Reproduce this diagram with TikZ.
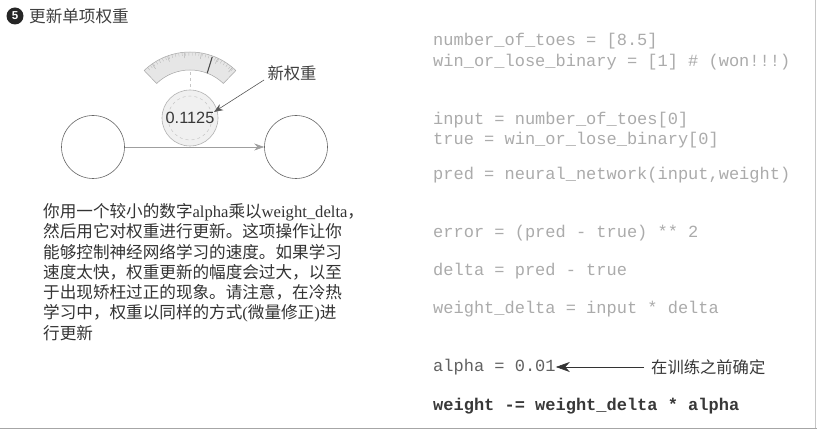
\documentclass[tikz,border=0pt]{standalone}
\usepackage{fontspec}
\setmainfont{Liberation Serif}
\setsansfont{Liberation Sans}
\setmonofont{Liberation Mono}
\newfontfamily\cjk{Noto Sans CJK SC}
\usetikzlibrary{arrows.meta}
\definecolor{codegray}{HTML}{ABABAB}
\definecolor{textgray}{HTML}{333333}
\definecolor{gaugefill}{HTML}{E6E6E6}
\tikzset{
  neuron/.style={circle,draw=gray!80!black,line width=0.6pt,minimum size=63pt,inner sep=0pt},
  codeline/.style={anchor=base west,inner sep=0pt,font=\ttfamily\fontsize{17}{20}\selectfont,text=codegray},
  calloutarrow/.style={draw=gray!70!black,line width=0.6pt,-{Stealth[length=9pt,width=7pt]}},
  cjklabel/.style={inner sep=0pt,font=\cjk\fontsize{16.3}{20}\selectfont,text=textgray},
  paraline/.style={anchor=base west,inner sep=0pt,font=\cjk\fontsize{16.6}{20}\selectfont,text=textgray}
}
\begin{document}
\begin{tikzpicture}[x=1pt,y=-1pt]
\useasboundingbox (0,0) rectangle (817,430);
\fill[white] (0,0) rectangle (817,430);
% border
\draw[gray!45,line width=0.8pt] (815,0) -- (815,428);
\draw[gray!70,line width=1.6pt] (0,428.5) -- (817,428.5);

% title
\node[circle,fill=black!85,inner sep=0pt,minimum size=17pt,text=white,font=\sffamily\bfseries\fontsize{11.5}{11.5}\selectfont] (num) at (15,16) {5};
\node[cjklabel,anchor=west,text=black!75,font=\cjk\fontsize{16.6}{20}\selectfont] (title) at (29,16) {更新单项权重};

% gauge
\coordinate (gc) at (190,118);
\filldraw[fill=gaugefill,draw=gray!70,line width=0.5pt] ([shift={(-46:66)}]gc) arc[start angle=-46,end angle=-134,radius=66] -- ([shift={(-134:48)}]gc) arc[start angle=-134,end angle=-46,radius=48] -- cycle;
\foreach \a in {49,52,...,131} \draw[gray!55,line width=0.35pt] ([shift={(-\a:65.5)}]gc) -- ([shift={(-\a:62.5)}]gc);
\foreach \a in {50,65,...,125} \draw[gray!60,line width=0.45pt] ([shift={(-\a:65.5)}]gc) -- ([shift={(-\a:60)}]gc);
\draw[black!70,line width=1.1pt] ([shift={(-69:48)}]gc) -- ([shift={(-70:65)}]gc);
\draw[gray!45,dashed,line width=0.5pt] (190,72) -- (190,90);

% weight circle
\node[circle,minimum size=56pt,inner sep=0pt,fill=gray!12,draw=gray!60,line width=0.6pt] (w) at (190,118) {};
\draw[gray!45,dashed,line width=0.5pt] (w.center) circle[radius=22];
\node[inner sep=0pt,font=\sffamily\fontsize{16.3}{18}\selectfont,text=black!78] (wval) at (190,118) {0.1125};

% neurons
\node[neuron] (in) at (93,147) {};
\node[neuron] (out) at (296,147) {};
\draw[gray!75,line width=0.6pt,-{Stealth[length=10pt,width=7pt]}] (in) -- (out);

% callout new weight
\node[cjklabel,text=black!75] (newlabel) at (292,73) {新权重};
\coordinate (newtip) at (214,112);
\draw[calloutarrow] (264,80) -- (newtip);

% paragraph
\node[paraline] (p1) at (43,217.5) {你用一个较小的数字{\rmfamily alpha}乘以{\rmfamily weight\_delta}，};
\node[paraline] (p2) at (43,237.8) {然后用它对权重进行更新。这项操作让你};
\node[paraline] (p3) at (43,258.1) {能够控制神经网络学习的速度。如果学习};
\node[paraline] (p4) at (43,278.4) {速度太快，权重更新的幅度会过大，以至};
\node[paraline] (p5) at (43,298.7) {于出现矫枉过正的现象。请注意，在冷热};
\node[paraline] (p6) at (43,319.0) {学习中，权重以同样的方式{\rmfamily (}微量修正{\rmfamily )}进};
\node[paraline] (p7) at (43,339.3) {行更新};

% code
\node[codeline] (c1) at (433,46) {number\_of\_toes = [8.5]};
\node[codeline] (c2) at (433,67) {win\_or\_lose\_binary = [1] \# (won!!!)};
\node[codeline] (c3) at (433,125) {input = number\_of\_toes[0]};
\node[codeline] (c4) at (433,145) {true = win\_or\_lose\_binary[0]};
\node[codeline] (c5) at (433,180) {pred = neural\_network(input,weight)};
\node[codeline] (c6) at (433,238) {error = (pred - true) ** 2};
\node[codeline] (c7) at (433,276) {delta = pred - true};
\node[codeline] (c8) at (433,314) {weight\_delta = input * delta};
\node[codeline,text=black!62] (c9) at (433,372) {alpha = 0.01};
\node[codeline,text=black!78,font=\ttfamily\bfseries\fontsize{17}{20}\selectfont] (c10) at (433,410.5) {weight -= weight\_delta * alpha};

% callout alpha
\node[cjklabel,anchor=west,text=black!78] (alabel) at (651,367) {在训练之前确定};
\draw[black!80,line width=0.6pt,-{Stealth[length=14pt,width=10pt]}] (alabel.west) ++(-7,0) -- (c9.east |- alabel.west);
\end{tikzpicture}
\end{document}
